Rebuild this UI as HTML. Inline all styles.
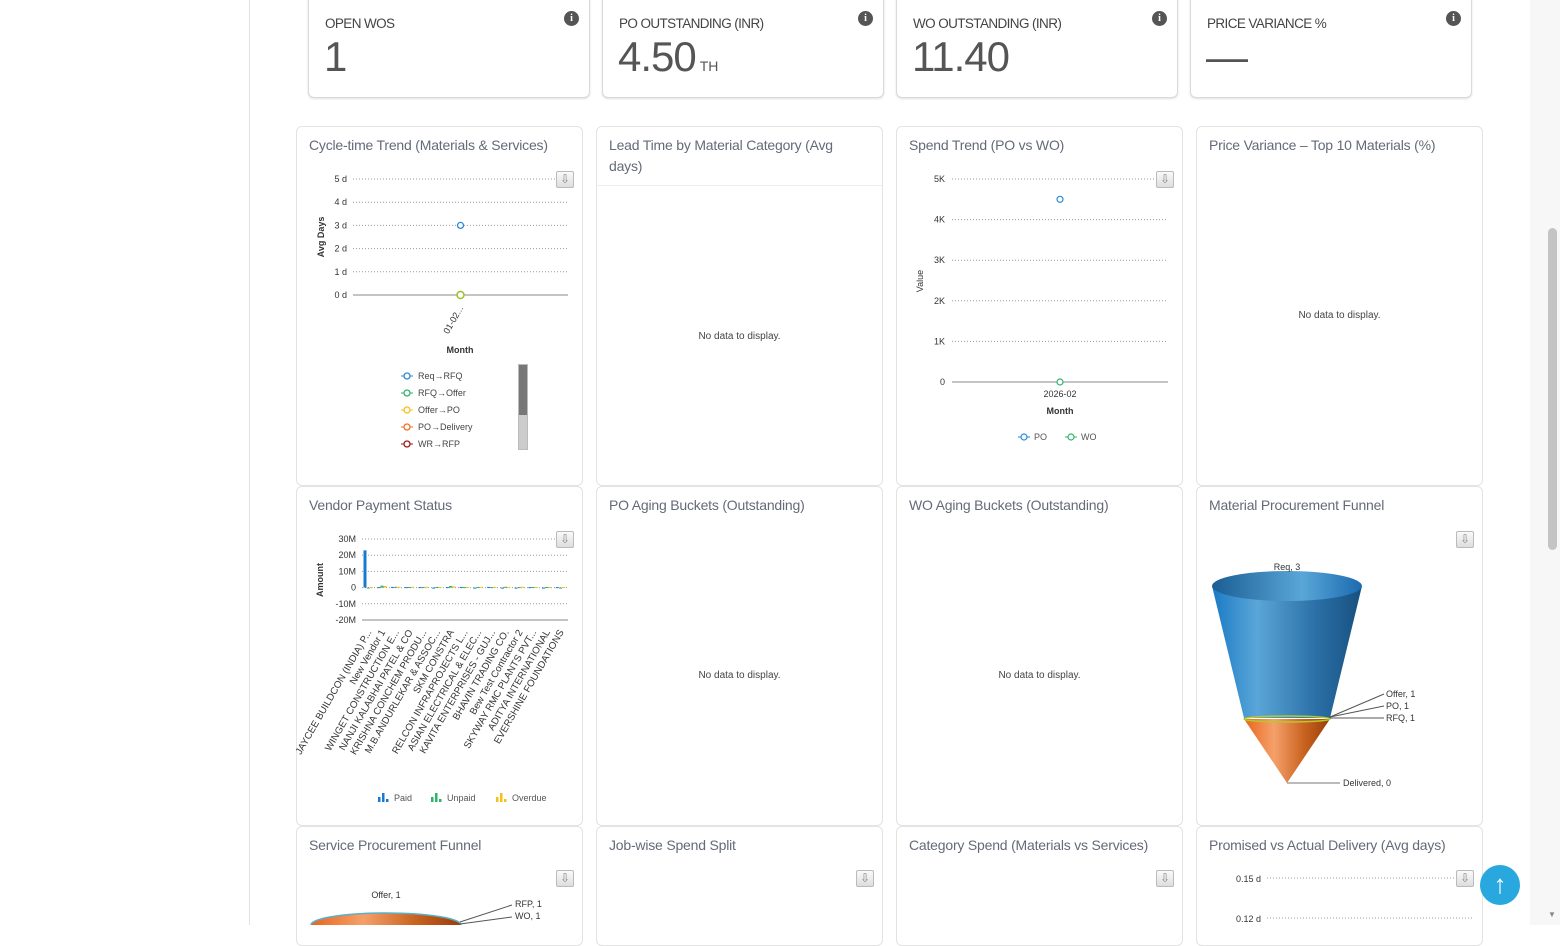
<!DOCTYPE html>
<html><head><meta charset="utf-8">
<style>
*{box-sizing:border-box;margin:0;padding:0}
body{width:1560px;height:925px;overflow:hidden;background:#fff;font-family:"Liberation Sans",sans-serif;position:relative}
.side{position:absolute;left:0;top:0;width:250px;height:925px;border-right:1px solid #e2e2e2;background:#fff}
.kpi{position:absolute;top:-6px;width:282px;height:104px;border:1px solid #d9d9d9;border-radius:6px;background:#fff;box-shadow:0 1px 2px rgba(0,0,0,.12)}
.kpi .t{position:absolute;left:16px;top:21px;font-size:13.5px;color:#444;letter-spacing:-0.6px}
.kpi .v{position:absolute;left:15px;top:38px;font-size:42px;color:#555;letter-spacing:-1px}
.kpi .v small{font-size:14px;letter-spacing:0;margin-left:4px}
.kpi .i{position:absolute;right:10px;top:16px;width:15px;height:15px;border-radius:50%;background:#555;color:#fff;font-size:10px;font-weight:bold;text-align:center;line-height:15px;font-family:"Liberation Serif",serif}
.card{position:absolute;width:287px;border:1px solid #e3e3e3;border-radius:6px;background:#fff}
.card .t{position:absolute;left:12px;top:8px;font-size:14px;color:#646a78;line-height:21px;width:260px;letter-spacing:-0.2px}
.nd{position:absolute;width:100%;text-align:center;font-size:10px;color:#444}
.dl{position:absolute;width:18px;height:17px;border:1px solid #bbb;border-radius:2px;background:linear-gradient(#fafafa,#ddd)}
.dl:after{content:"⇩";position:absolute;left:3px;top:0;font-size:12px;color:#888}
svg text{font-family:"Liberation Sans",sans-serif}
</style></head><body>
<div class="side"></div>

<div class="kpi" style="left:308px"><div class="t">OPEN WOS</div><div class="v">1</div><div class="i">i</div></div>
<div class="kpi" style="left:602px"><div class="t">PO OUTSTANDING (INR)</div><div class="v">4.50<small>TH</small></div><div class="i">i</div></div>
<div class="kpi" style="left:896px"><div class="t">WO OUTSTANDING (INR)</div><div class="v">11.40</div><div class="i">i</div></div>
<div class="kpi" style="left:1190px"><div class="t">PRICE VARIANCE %</div><div class="v">—</div><div class="i">i</div></div>

<div class="card" style="left:296px;top:126px;height:360px"><div class="t">Cycle-time Trend (Materials &amp; Services)</div></div>
<div class="card" style="left:596px;top:126px;height:360px"><div class="t">Lead Time by Material Category (Avg days)</div><div style="position:absolute;left:0;right:0;top:58px;border-top:1px solid #eee"></div><div class="nd" style="top:204px">No data to display.</div></div>
<div class="card" style="left:896px;top:126px;height:360px"><div class="t">Spend Trend (PO vs WO)</div></div>
<div class="card" style="left:1196px;top:126px;height:360px"><div class="t">Price Variance – Top 10 Materials (%)</div><div class="nd" style="top:183px">No data to display.</div></div>
<div class="card" style="left:296px;top:486px;height:340px"><div class="t">Vendor Payment Status</div></div>
<div class="card" style="left:596px;top:486px;height:340px"><div class="t">PO Aging Buckets (Outstanding)</div><div class="nd" style="top:183px">No data to display.</div></div>
<div class="card" style="left:896px;top:486px;height:340px"><div class="t">WO Aging Buckets (Outstanding)</div><div class="nd" style="top:183px">No data to display.</div></div>
<div class="card" style="left:1196px;top:486px;height:340px"><div class="t">Material Procurement Funnel</div></div>
<div class="card" style="left:296px;top:826px;height:120px"><div class="t">Service Procurement Funnel</div></div>
<div class="card" style="left:596px;top:826px;height:120px"><div class="t">Job-wise Spend Split</div></div>
<div class="card" style="left:896px;top:826px;height:120px"><div class="t">Category Spend (Materials vs Services)</div></div>
<div class="card" style="left:1196px;top:826px;height:120px"><div class="t">Promised vs Actual Delivery (Avg days)</div></div>

<svg id="ov" width="1560" height="925" style="position:absolute;left:0;top:0">
<defs>
<linearGradient id="gb" x1="0" x2="1"><stop offset="0" stop-color="#1a7ac4"/><stop offset=".3" stop-color="#5aa6d8"/><stop offset=".7" stop-color="#2a6fa6"/><stop offset="1" stop-color="#17507e"/></linearGradient>
<linearGradient id="gbt" x1="0" x2="1"><stop offset="0" stop-color="#1a5e94"/><stop offset=".6" stop-color="#5aa6d8"/><stop offset="1" stop-color="#1a6bb0"/></linearGradient>
<linearGradient id="go" x1="0" x2="1"><stop offset="0" stop-color="#e8661e"/><stop offset=".35" stop-color="#f5a06a"/><stop offset=".7" stop-color="#c8621f"/><stop offset="1" stop-color="#9a3d0a"/></linearGradient>
</defs>
<g id="g"></g>
<g>
<path d="M1212,586 L1362,586 L1330,718 L1244,718 Z" fill="url(#gb)"/>
<ellipse cx="1287" cy="586" rx="75" ry="15" fill="url(#gbt)"/>
<path d="M1244,719 L1330,719 L1287,783 Z" fill="url(#go)"/>
<ellipse cx="1287" cy="719" rx="43" ry="3" fill="none" stroke="#b5c92a" stroke-width="1.5"/>
<text x="1287" y="570" font-size="9" text-anchor="middle" fill="#333">Req, 3</text>
<polyline points="1330,717 1384,694" stroke="#555" fill="none"/><polyline points="1330,717 1384,706" stroke="#555" fill="none"/><polyline points="1330,718 1384,718" stroke="#555" fill="none"/>
<text x="1386" y="697" font-size="9" fill="#333">Offer, 1</text><text x="1386" y="709" font-size="9" fill="#333">PO, 1</text><text x="1386" y="721" font-size="9" fill="#333">RFQ, 1</text>
<line x1="1287" y1="783" x2="1340" y2="783" stroke="#777"/><text x="1343" y="786" font-size="9" fill="#333">Delivered, 0</text>
</g>
<g>
<ellipse cx="386" cy="925" rx="75" ry="12" fill="url(#go)" stroke="#5ab0c8" stroke-width="1.5"/>
<text x="386" y="898" font-size="9" text-anchor="middle" fill="#333">Offer, 1</text>
<polyline points="460,922 512,905" stroke="#555" fill="none"/><polyline points="460,924 512,917" stroke="#555" fill="none"/>
<text x="515" y="907" font-size="9" fill="#333">RFP, 1</text><text x="515" y="919" font-size="9" fill="#333">WO, 1</text>
</g>
<g>
<text x="1261" y="882" font-size="9" text-anchor="end" fill="#333">0.15 d</text><line x1="1267" y1="878" x2="1472" y2="878" stroke="#999" stroke-dasharray="1,2"/>
<text x="1261" y="922" font-size="9" text-anchor="end" fill="#333">0.12 d</text><line x1="1267" y1="918" x2="1472" y2="918" stroke="#999" stroke-dasharray="1,2"/>
</g>
</svg>

<div class="dl" style="left:556px;top:171px"></div>
<div class="dl" style="left:1156px;top:171px"></div>
<div class="dl" style="left:556px;top:531px"></div>
<div class="dl" style="left:1456px;top:531px"></div>
<div class="dl" style="left:556px;top:870px"></div>
<div class="dl" style="left:856px;top:870px"></div>
<div class="dl" style="left:1156px;top:870px"></div>
<div class="dl" style="left:1456px;top:870px"></div>

<div style="position:absolute;left:518px;top:364px;width:10px;height:86px;border:1px solid #bbb;background:#ccc"><div style="height:50px;background:#777"></div></div>
<div style="position:absolute;left:1480px;top:865px;width:40px;height:40px;border-radius:50%;background:#29a8e0;color:#fff;font-size:26px;text-align:center;line-height:38px">↑</div>
<div style="position:absolute;left:1530px;top:0;width:30px;height:925px;background:#f7f7f7"><div style="position:absolute;left:18px;top:228px;width:9px;height:322px;border-radius:5px;background:#c4c4c4"></div><div style="position:absolute;left:18px;top:910px;font-size:8px;color:#888">▼</div></div>

<script>
const ctMonths=["01-02..."];
const ctReqRfq=[3];
const ctRfqOffer=[0];
const ctTicks=[0,1,2,3,4,5];
const stMonths=["2026-02"];
const stPO=[4500];
const stWO=[0];
const stTicks=[0,1000,2000,3000,4000,5000];
const stTickLabels=["0","1K","2K","3K","4K","5K"];
const vpVendors=["JAYCEE BUILDCON (INDIA) P...","New Vendor 1","WINGET CONSTRUCTION E...","NANJI KALABHAI PATEL & CO","KRISHNA CONCHEM PRODU...","M.B.ANDURLEKAR & ASSOC...","SKM CONSTRA","RELCON INFRAPROJECTS L...","ASIAN ELECTRICAL & ELEC...","KAVITA ENTERPRISES - GUJ...","BHAVIN TRADING CO.","Bew Test Contractor 2","SKYWAY RMC PLANTS PVT...","ADITYA INTERNATIONAL","EVERSHINE FOUNDATIONS"];
const vpPaid=[23,0.3,0.4,0.3,0.3,-0.4,0.3,0.4,-0.3,0.4,-0.5,-0.4,0.3,-0.3,0.3];
const vpUnpaid=[-0.6,1.2,0.5,0.4,0.4,0.4,1.0,0.3,0.4,0.3,0.5,0.3,0.4,0.4,-0.3];
const vpOverdue=[0.3,1.0,0.5,0.5,0.5,0.4,0.8,0.4,0.5,0.5,0.4,0.5,0.4,0.4,0.4];
const vpTicks=[-20,-10,0,10,20,30];
const vpTickLabels=["-20M","-10M","0","10M","20M","30M"];

const NS="http://www.w3.org/2000/svg";
const G=document.getElementById('g');
function mk(tag,at,txt){const e=document.createElementNS(NS,tag);for(const k in at)e.setAttribute(k,at[k]);if(txt!==undefined)e.textContent=txt;G.appendChild(e);return e;}
function lin(d0,d1,r0,r1){return v=>r0+(v-d0)*(r1-r0)/(d1-d0);}

(function(){
 const y=lin(0,5,295,179), x0=353,x1=568;
 const xb=i=>x0+(x1-x0)*(i+0.5)/ctMonths.length;
 ctTicks.forEach(t=>{const l=mk('line',{x1:x0,x2:x1,y1:y(t),y2:y(t),stroke:t===0?'#888':'#999','stroke-dasharray':t===0?'':'1,2'});
  
  
  const tx=mk('text',{x:347,y:y(t)+3,'font-size':9,'text-anchor':'end',fill:'#333'},t+' d');
  
  });
 const yt=mk('text',{x:324,y:237,'font-size':9,'font-weight':'bold','text-anchor':'middle',fill:'#333',transform:'rotate(-90 324 237)'},'Avg Days');
 
 
 ctMonths.forEach((m,i)=>{const cx=xb(i);
  const lb=mk('text',{x:cx+3,y:308,'font-size':9,'text-anchor':'end',fill:'#333',transform:`rotate(-60 ${cx+3} 308)`},m);
  
  
  const p1=mk('circle',{cx:cx,cy:y(ctReqRfq[i]),r:3,fill:'#fff',stroke:'#2a8ad8','stroke-width':1.3});
  
  
  const p2=mk('circle',{cx:cx,cy:y(ctRfqOffer[i]),r:3.5,fill:'#fff',stroke:'#9abf2a','stroke-width':1.5});
  
  });
 const xt=mk('text',{x:460,y:353,'font-size':9,'font-weight':'bold','text-anchor':'middle',fill:'#333'},'Month');
 
 
 const lg=[['Req→RFQ','#2a8ad8'],['RFQ→Offer','#2fb36a'],['Offer→PO','#f2c21a'],['PO→Delivery','#f07020'],['WR→RFP','#a01818']];
 lg.forEach((l,i)=>{const yy=376+i*17;
  mk('line',{x1:401,x2:413,y1:yy,y2:yy,stroke:l[1]});
  const c=mk('circle',{cx:407,cy:yy,r:3,fill:'#fff',stroke:l[1],'stroke-width':1.3});
  
  
  const t=mk('text',{x:418,y:yy+3,'font-size':9,fill:'#444'},l[0]);
  
  });
})();

(function(){
 const y=lin(0,5000,382,179), x0=952,x1=1168;
 const xb=i=>x0+(x1-x0)*(i+0.5)/stMonths.length;
 stTicks.forEach((t,k)=>{const l=mk('line',{x1:x0,x2:x1,y1:y(t),y2:y(t),stroke:t===0?'#888':'#999','stroke-dasharray':t===0?'':'1,2'});
  
  
  const tx=mk('text',{x:945,y:y(t)+3,'font-size':9,'text-anchor':'end',fill:'#333'},stTickLabels[k]);
  
  });
 const yt=mk('text',{x:923,y:281,'font-size':9,'text-anchor':'middle',fill:'#333',transform:'rotate(-90 923 281)'},'Value');
 
 
 stMonths.forEach((m,i)=>{const cx=xb(i);
  const lb=mk('text',{x:cx,y:397,'font-size':9,'text-anchor':'middle',fill:'#333'},m);
  
  
  const p1=mk('circle',{cx:cx,cy:y(stPO[i]),r:3,fill:'#fff',stroke:'#2a8ad8','stroke-width':1.2});
  
  
  const p2=mk('circle',{cx:cx,cy:y(stWO[i]),r:3,fill:'#fff',stroke:'#2fb36a','stroke-width':1.2});
  
  });
 const xt=mk('text',{x:1060,y:414,'font-size':9,'font-weight':'bold','text-anchor':'middle',fill:'#333'},'Month');
 
 
 [['PO','#2a8ad8',1024],['WO','#2fb36a',1071]].forEach(l=>{
  mk('line',{x1:l[2]-6,x2:l[2]+6,y1:437,y2:437,stroke:l[1]});
  mk('circle',{cx:l[2],cy:437,r:3,fill:'#fff',stroke:l[1],'stroke-width':1.2});
  const t=mk('text',{x:l[2]+10,y:440,'font-size':9,fill:'#555'},l[0]);
  
  });
})();

(function(){
 const y=lin(-20,30,620,539), x0=362,x1=568;
 const bw=(x1-x0)/vpVendors.length;
 vpTicks.forEach((t,k)=>{const base=t===-20;
  const l=mk('line',{x1:x0,x2:x1,y1:y(t),y2:y(t),stroke:base?'#888':'#999','stroke-dasharray':base?'':'1,2'});
  
  
  const tx=mk('text',{x:356,y:y(t)+3,'font-size':9,'text-anchor':'end',fill:'#333'},vpTickLabels[k]);
  
  });
 const yt=mk('text',{x:323,y:580,'font-size':9,'font-weight':'bold','text-anchor':'middle',fill:'#333',transform:'rotate(-90 323 580)'},'Amount');
 
 
 const series=[[vpPaid,'#1a7ad0','bar-paid'],[vpUnpaid,'#2fb36a','bar-unpaid'],[vpOverdue,'#f2c21a','bar-overdue']];
 vpVendors.forEach((v,i)=>{const bx=x0+i*bw+1.5;
  series.forEach((s,j)=>{const val=s[0][i];const a=y(Math.max(val,0)),b=y(Math.min(val,0));
   const r=mk('rect',{x:bx+j*3.2,y:a,width:3,height:Math.max(b-a,1),fill:s[1]});
   
   });
  const cx=x0+(i+0.5)*bw+3;
  const lb=mk('text',{x:cx,y:632,'font-size':9.8,'text-anchor':'end',fill:'#333',transform:`rotate(-60 ${cx} 632)`},v);
  
  });
 [['Paid','#1a7ad0',378],['Unpaid','#2fb36a',431],['Overdue','#f2c21a',496]].forEach(l=>{
  [[0,5],[4,9],[8,3]].forEach(b=>mk('rect',{x:l[2]+b[0],y:802-b[1],width:2.5,height:b[1],fill:l[1]}));
  const t=mk('text',{x:l[2]+16,y:801,'font-size':9,fill:'#555'},l[0]);
  
  });
})();
</script>
</body></html>
